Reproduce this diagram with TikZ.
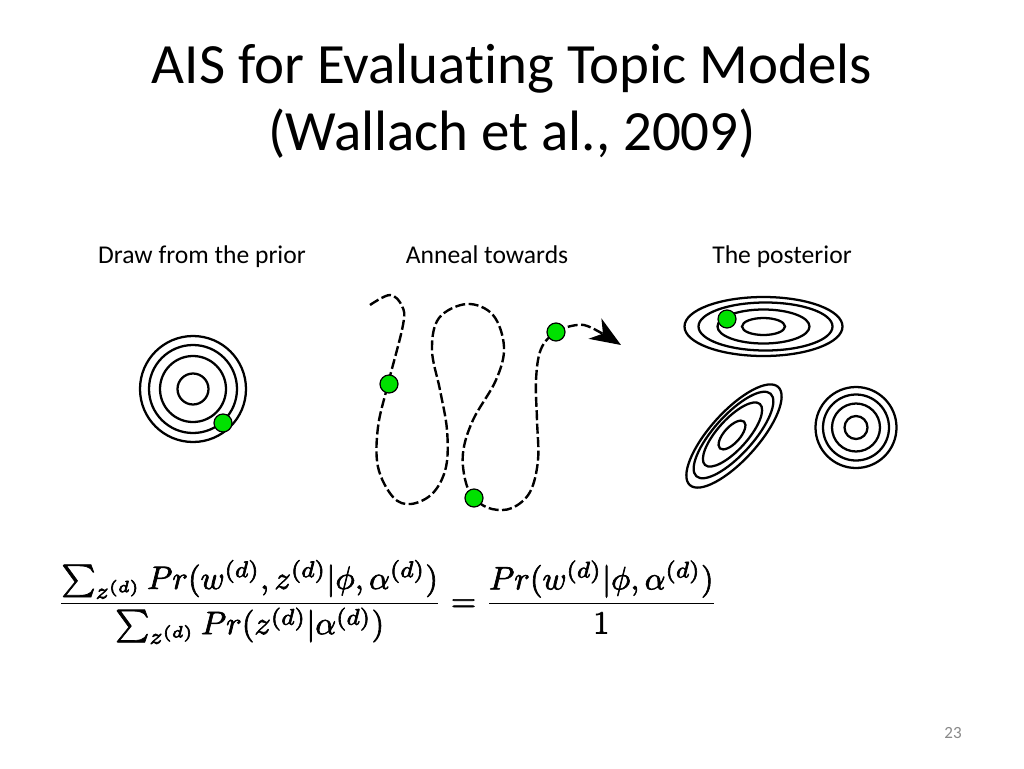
\documentclass[tikz,border=0pt]{standalone}
\usepackage{fontspec}
\setmainfont[Ligatures={NoCommon}]{Carlito}
\usepackage{amsmath}
\usetikzlibrary{arrows.meta}
\definecolor{dotgreen}{RGB}{0,225,0}
\definecolor{pagegray}{RGB}{137,137,137}
\begin{document}
\begin{tikzpicture}[x=0.75pt,y=-0.75pt,
  ring/.style={draw=black,line width=1.7pt},
  gdot/.style={circle,draw=black,line width=0.9pt,fill=dotgreen,inner sep=0pt,minimum size=13.5pt},
  label/.style={font=\fontsize{19.2pt}{23pt}\selectfont,anchor=base,text=black},
  titlefont/.style={font=\fontsize{42.7pt}{52pt}\selectfont,anchor=base,text=black},
  snake/.style={draw=black,line width=1.8pt,dash pattern=on 7.5pt off 2.6pt}]
\fill[white] (0,0) rectangle (1024,768);
\useasboundingbox (0,0) rectangle (1024,768);
% title
\node[titlefont] (t1) at (512,83) {AIS for Evaluating Topic Models};
\node[titlefont] (t2) at (512,150) {(Wallach et al., 2009)};
% labels
\node[label] (l1) at (202,263) {Draw from the prior};
\node[label] (l2) at (487,263) {Anneal towards};
\node[label] (l3) at (782,263) {The posterior};
% prior circles
\coordinate (pc) at (193,389);
\foreach \r in {53,44,33,15.5} \draw[ring] (pc) circle[radius=\r*0.75pt];
\node[gdot] (d0) at (223,423) {};
% snake path
\draw[snake,-{Stealth[length=23pt,width=18pt,inset=7pt]}] plot[smooth,tension=0.6] coordinates {
 (370,305) (390,295) (402,306) (403,325) (388,384) (378,427) (378,467) (393,497) (411,504)
 (433,493) (446,467) (447,430) (440,390) (432,350) (439,318) (467,304) (493,315) (504,347)
 (496,380) (473,420) (463,453) (466,483) (476,500) (492,509) (512,508) (530,492) (538,460)
 (537,420) (536,380) (541,349) (556,332) (577,325) (592,328) (621,345)};
\node[gdot] (d1) at (389,384) {};
\node[gdot] (d2) at (474,498) {};
\node[gdot] (d3) at (556,332) {};
% posterior: horizontal ellipses
\coordinate (e1) at (763.5,326.5);
\draw[ring] (e1) ellipse[x radius=79*0.75pt,y radius=29.5*0.75pt];
\draw[ring] ([xshift=1.5pt]e1) ellipse[x radius=67*0.75pt,y radius=24*0.75pt];
\draw[ring] (e1) ellipse[x radius=46*0.75pt,y radius=17*0.75pt];
\draw[ring] (e1) ellipse[x radius=21.5*0.75pt,y radius=8.5*0.75pt];
\node[gdot] (d4) at (727,319) {};
% tilted ellipses
\coordinate (e2) at (734,436);
\draw[ring,rotate around={48:(e2)}] (e2) ellipse[x radius=66*0.75pt,y radius=24*0.75pt];
\draw[ring,rotate around={48:(733.5,435)}] (733.5,435) ellipse[x radius=55.5*0.75pt,y radius=19.5*0.75pt];
\draw[ring,rotate around={48:(732.5,434.5)}] (732.5,434.5) ellipse[x radius=41*0.75pt,y radius=15*0.75pt];
\draw[ring,rotate around={48:(732,435)}] (732,435) ellipse[x radius=18*0.75pt,y radius=8*0.75pt];
% concentric circles
\coordinate (e3) at (856,427.5);
\foreach \r in {40.5,33,24,11.5} \draw[ring] (e3) circle[radius=\r*0.75pt];
% equation
\node[inner sep=0pt] (eq) at (387.5,602) {\resizebox{495pt}{!}{\special{pdf:literal 2 Tr 0.2 w}$\displaystyle
 \frac{\sum_{z^{(d)}} Pr(w^{(d)}, z^{(d)}|\phi,\alpha^{(d)})}{\sum_{z^{(d)}} Pr(z^{(d)}|\alpha^{(d)})}
 =\frac{Pr(w^{(d)}|\phi,\alpha^{(d)})}{1}$\special{pdf:literal 0 Tr}}};
% page number
\node[font=\fontsize{12.8pt}{15pt}\selectfont,text=pagegray,anchor=base] (pn) at (953,738) {23};
\end{tikzpicture}
\end{document}
